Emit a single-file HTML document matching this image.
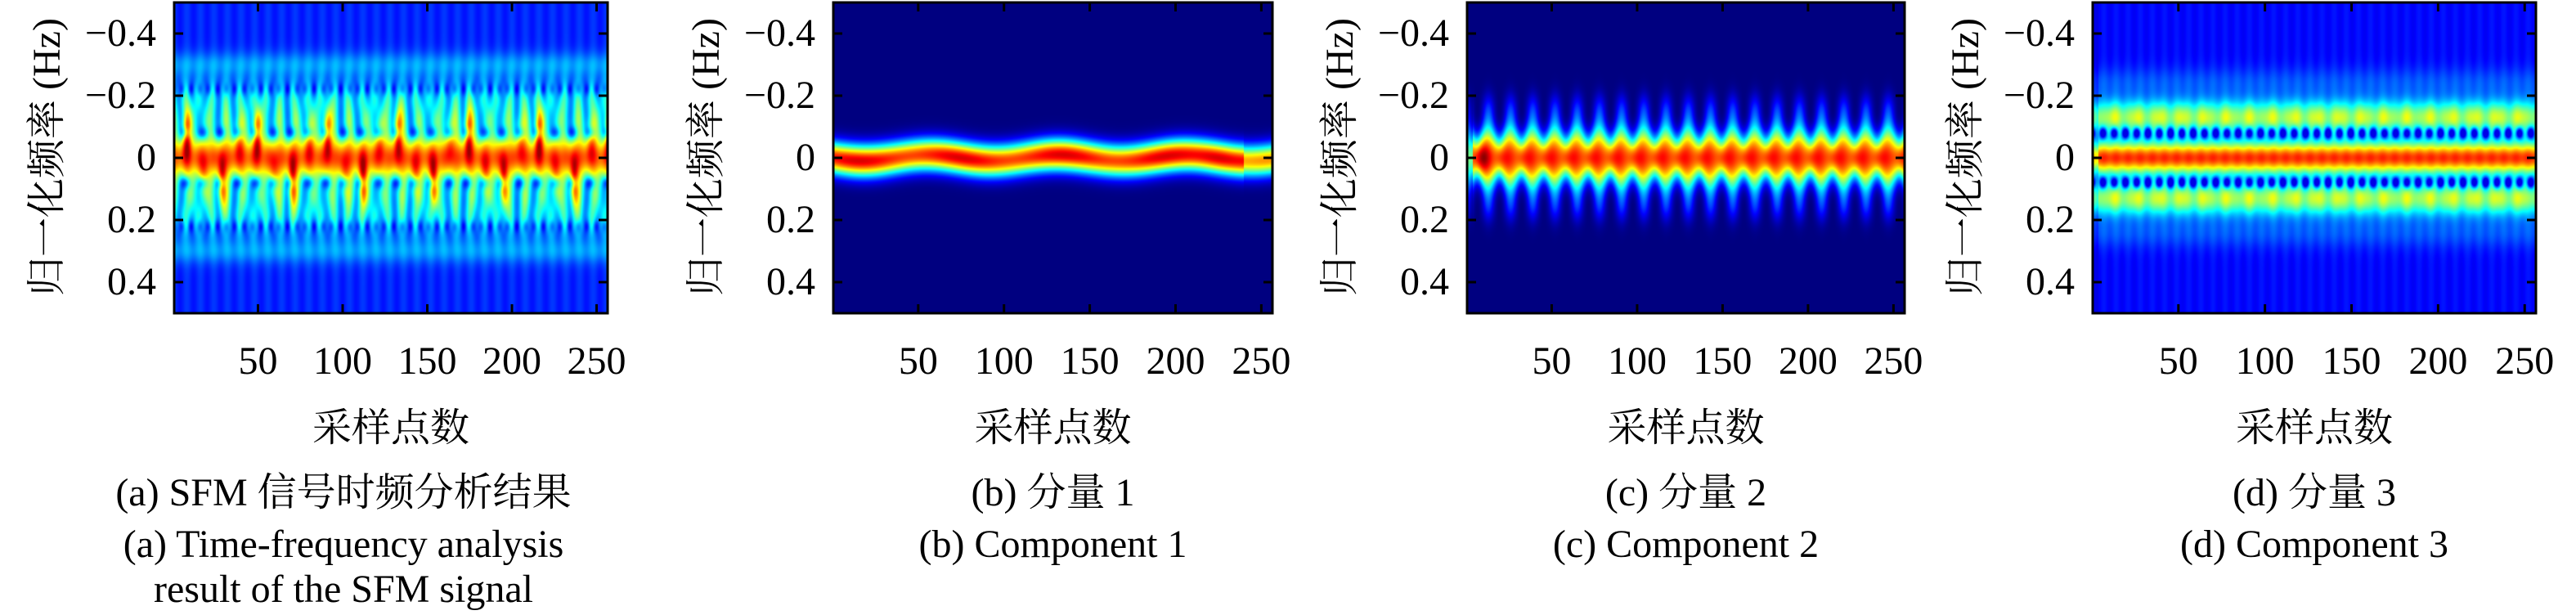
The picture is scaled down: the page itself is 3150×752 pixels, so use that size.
<!DOCTYPE html>
<html><head><meta charset="utf-8">
<style>
html,body{margin:0;padding:0;background:#fff;}
body{width:3150px;height:752px;position:relative;overflow:hidden;font-family:"Liberation Serif","DejaVu Serif","Noto Serif CJK SC",serif;color:#000;}
.t{position:absolute;white-space:nowrap;font-size:48px;line-height:1;}
canvas{position:absolute;}
svg{position:absolute;left:0;top:0;}
</style></head><body>
<div id="root"></div>
<svg id="ov" width="3150" height="752"></svg>
<script>
const T=3,B=383;
const panels=[
 {L:213,R:743,cap:["(a) SFM 信号时频分析结果","(a) Time-frequency analysis","result of the SFM signal"],cx:420},
 {L:1019,R:1556,cap:["(b) 分量 1","(b) Component 1"]},
 {L:1794,R:2329,cap:["(c) 分量 2","(c) Component 2"]},
 {L:2559,R:3101,cap:["(d) 分量 3","(d) Component 3"]}
];
function cl(x){return x<0?0:x>1?1:x;}
function jet(v){v=cl(v);return [cl(1.5-Math.abs(4*v-3)),cl(1.5-Math.abs(4*v-2)),cl(1.5-Math.abs(4*v-1))];}
const G=(x,s)=>Math.exp(-(x/s)*(x/s));
const P2=Math.PI*2;
const fns=[
 function(t,f){ // a
  let af=Math.abs(f);
  let v=0.16+0.02*Math.cos(P2*t/8);
  v+=0.12*G(af-0.3,0.04);
  v+=0.22*G(af-0.2,0.06)*(0.7+0.3*Math.cos(P2*t/8+1));
  v+=0.3*G(af-0.12,0.06)*(0.6+0.4*Math.cos(P2*t/10.4));
  v+=0.62*G(f,0.07);
  for(let k=0;k<13;k++){let tk=8+20.8*k;let s=(k%2)?1:-1;
   v+=0.4*G(t-tk,2.5)*G(f-s*0.08,0.08);
   v+=0.2*G(t-tk-10,3)*G(f+s*0.06,0.07);}
  v-=0.22*G(af-0.08,0.02)*(0.5+0.5*Math.cos(P2*t/10.4+2));
  v-=0.12*G(af-0.22,0.02)*(0.5+0.5*Math.cos(P2*t/5.2));
  return Math.max(0.1,Math.min(v,0.97));
 },
 function(t,f){ // b
  let c=0.01*Math.sin(P2*t/75);
  let a=0.86+0.05*Math.sin(P2*t/60)+0.1*G(t-225,12);
  let v=a*G(f-c,0.05);
  if(t>240) v*=0.8;
  return v;
 },
 function(t,f){ // c
  let ph=Math.cos(P2*t/13);
  let w=0.085+0.02*ph;
  let v=(0.83+0.04*Math.cos(P2*t/13+1))*G(f,w)+0.12*G(t-10,4)*G(f,0.06);
  v+=0.1*G(Math.abs(f)-0.16,0.05)*(0.5+0.5*ph);
  if(t<4) v*=0.6;
  return v;
 },
 function(t,f){ // d
  let af=Math.abs(f);
  let v=0.13+0.015*Math.cos(P2*t/7);
  v+=0.47*G(af-0.13,0.055)*(0.9+0.1*Math.cos(P2*t/13));
  v+=0.08*G(af-0.24,0.05);
  v+=0.7*G(f,0.05);
  v-=0.4*G(af-0.08,0.018)*(0.5+0.5*Math.cos(P2*t/6.5));
  if(t<4) v*=0.8;
  return Math.max(0.1,Math.min(v,0.95));
 }
];
const root=document.getElementById('root');
const ov=document.getElementById('ov');
let svg='';
function txt(s,x,y,anchor){
 const d=document.createElement('div');d.className='t';d.textContent=s;
 let tx=anchor==='c'?'-50%':anchor==='r'?'-100%':'0';
 d.style.left=x+'px';d.style.top=y+'px';d.style.transform='translate('+tx+',-50%)';
 root.appendChild(d);return d;
}
panels.forEach((p,i)=>{
 const W=p.R-p.L,H=B-T;
 const cv=document.createElement('canvas');cv.width=W;cv.height=H;
 cv.style.left=p.L+'px';cv.style.top=T+'px';root.appendChild(cv);
 const ctx=cv.getContext('2d');const im=ctx.createImageData(W,H);
 for(let y=0;y<H;y++){const f=-0.5+(y+0.5)/H;
  for(let x=0;x<W;x++){const t=0.5+(x+0.5)/W*256;
   const c=jet(fns[i](t,f));const k=(y*W+x)*4;
   im.data[k]=c[0]*255;im.data[k+1]=c[1]*255;im.data[k+2]=c[2]*255;im.data[k+3]=255;}}
 ctx.putImageData(im,0,0);
 svg+=`<rect x="${p.L}" y="${T}" width="${W}" height="${H}" fill="none" stroke="#000" stroke-width="3"/>`;
 [50,100,150,200,250].forEach(v=>{const x=p.L+(v-0.5)/256*W;
  svg+=`<line x1="${x}" y1="${B}" x2="${x}" y2="${B-11}" stroke="#000" stroke-width="3"/><line x1="${x}" y1="${T}" x2="${x}" y2="${T+11}" stroke="#000" stroke-width="3"/>`;
  txt(String(v),x,442,'c');});
 [[-0.4,'−0.4'],[-0.2,'−0.2'],[0,'0'],[0.2,'0.2'],[0.4,'0.4']].forEach(([v,s])=>{const y=T+(v+0.5)*H;
  svg+=`<line x1="${p.L}" y1="${y}" x2="${p.L+11}" y2="${y}" stroke="#000" stroke-width="3"/><line x1="${p.R}" y1="${y}" x2="${p.R-11}" y2="${y}" stroke="#000" stroke-width="3"/>`;
  txt(s,p.L-22,y,'r');});
 const yl=txt('归一化频率 (Hz)',p.L-155,192,'c');
 yl.style.transformOrigin='0 0';
 yl.style.transform='rotate(-90deg) translate(-50%,-50%)';
 txt('采样点数',(p.L+p.R)/2,524,'c');
 const cx=p.cx||(p.L+p.R)/2;
 const ys=[603,666,721];
 p.cap.forEach((s,j)=>txt(s,cx,ys[j],'c'));
});
ov.innerHTML=svg;
</script>
</body></html>
